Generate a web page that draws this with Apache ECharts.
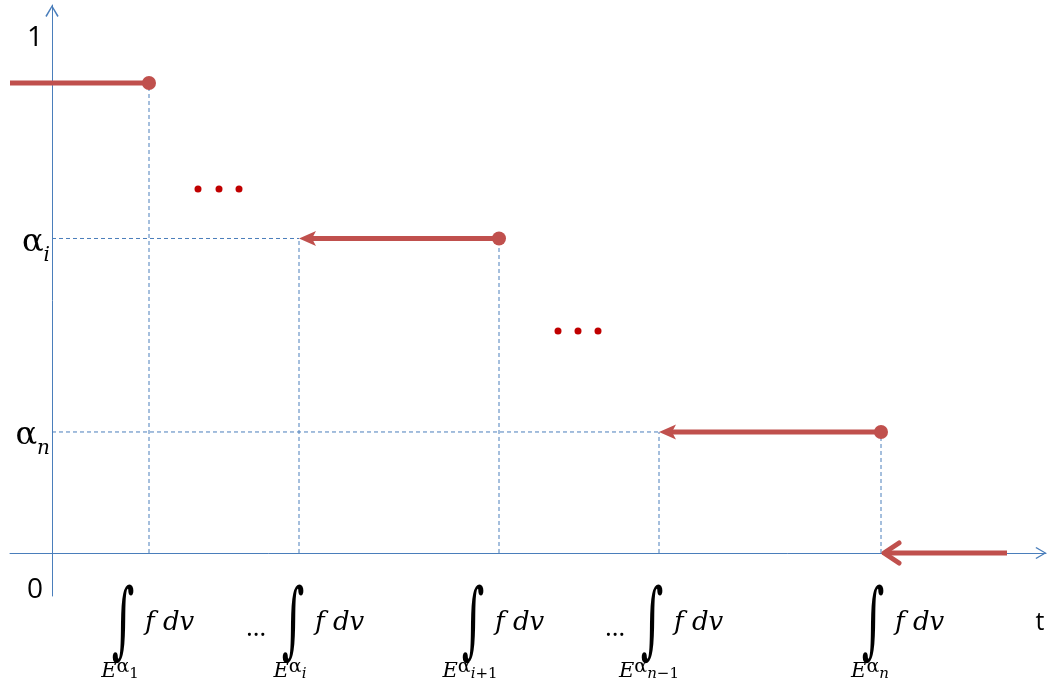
<!DOCTYPE html>
<html><head><meta charset="utf-8">
<script src="https://cdn.jsdelivr.net/npm/echarts@6/dist/echarts.min.js"></script>
<style>html,body{margin:0;padding:0;background:#fff}#c{width:1049px;height:686px}</style>
</head><body><div id="c"></div>
<script>
// ---- data (t on horizontal axis, level on vertical axis) ----
const tRange = [-42, 994];
const levelRange = [-0.0835, 1.0641];
const breaks = [97, 247, 447, 607, 829];             // integral values of f over E^{alpha_k}
const breakSubs = ['1', 'i', 'i+1', 'n−1', 'n'];     // subscripts under the integrals
const breakLevel = [0.9126, 0.6107, 0.6107, 0.2350, 0.2350];
const stepLevel = [0.9126, 0.6107, 0.2350, 0];
const stepFrom = [-42, 247, 607, 829];
const stepTo = [97, 447, 829, 955];
const stepLeftArrow = [false, true, true, true];
const stepRightDot = [true, true, true, false];
const stepGuide = [false, true, true, false];         // horizontal dashed guide to the axis
const yTickValues = [0, 0.2350, 0.6107, 1];
const yTickLabels = ['0', 'α_n', 'α_i', '1'];
const ellipsisT = [146, 167, 187, 506, 526, 546];
const ellipsisLevel = [0.7068, 0.7068, 0.7068, 0.4311, 0.4311, 0.4311];
const labelLeadDots = [false, true, false, true, false];
const axisName = 't';

// ---- styles ----
const AXIS = '#4a7ebb', RED = '#c0504d', DARKRED = '#c00000';
const intShift = [-26, -6, -26, -7, -8];
const openArrowStyle = [false, false, false, true];
const chevron = 'path://M0,10 L6,0 L12,10 L10.8,10.8 L6,2.2 L1.2,10.8 Z';

const series = [];
// dashed guides
breaks.forEach((b, i) => {
  series.push({type:'line', silent:true, symbol:'none', z:1, animation:false,
    lineStyle:{color:AXIS, width:1, type:[4,3]},
    data:[[b, 0], [b, breakLevel[i]]]});
});
stepLevel.forEach((lv, i) => {
  if (!stepGuide[i]) return;
  series.push({type:'line', silent:true, symbol:'none', z:1, animation:false,
    lineStyle:{color:AXIS, width:1, type:[4,3]},
    data:[[0, lv], [stepFrom[i], lv]]});
});
// red steps: segment, open end arrow on the left, closed dot on the right
series.push({type:'custom', silent:true, z:5, animation:false, clip:false,
  data: stepLevel.map((lv, i) => [stepFrom[i], stepTo[i], lv]),
  encode:{x:[0,1], y:2},
  renderItem(params, api) {
    const i = params.dataIndex;
    const a = api.coord([api.value(0), api.value(2)]);
    const b = api.coord([api.value(1), api.value(2)]);
    const ch = [];
    const open = openArrowStyle[i];
    const start = stepLeftArrow[i] ? a[0] + (open ? 3 : 13) : a[0];
    ch.push({type:'line', shape:{x1:start, y1:a[1], x2:b[0], y2:b[1]},
      style:{stroke:RED, lineWidth:5}});
    if (stepLeftArrow[i]) {
      if (open) {
        ch.push({type:'polyline', shape:{points:[[a[0] + 18, a[1] - 10], [a[0] + 3, a[1]], [a[0] + 18, a[1] + 10]]},
          style:{stroke:RED, lineWidth:5, fill:null, lineJoin:'round', lineCap:'round'}});
      } else {
        ch.push({type:'polygon', shape:{points:[[a[0], a[1]], [a[0] + 17, a[1] - 7.5], [a[0] + 13, a[1]], [a[0] + 17, a[1] + 7.5]]},
          style:{fill:RED}});
      }
    }
    if (stepRightDot[i]) {
      ch.push({type:'circle', shape:{cx:b[0], cy:b[1], r:7}, style:{fill:RED}});
    }
    return {type:'group', children:ch};
  }
});
// ellipsis dots
series.push({type:'scatter', silent:true, z:5, animation:false, symbolSize:7,
  itemStyle:{color:DARKRED, opacity:1},
  data: ellipsisT.map((t, i) => [t, ellipsisLevel[i]])});

function subRich(s) {
  return s.split('').map(ch => /[a-z]/.test(ch) ? '{si|' + ch + '}' : '{su|' + ch + '}').join('');
}
// integral labels under the t axis + axis name
series.push({type:'custom', silent:true, z:6, animation:false, clip:false,
  data: breaks.map(b => [b, 0]),
  encode:{x:0, y:1},
  renderItem(params, api) {
    const i = params.dataIndex;
    const p = api.coord([api.value(0), 0]);
    const ix = p[0] + intShift[i];
    const y0 = p[1];
    const children = [
      {type:'text', x:ix, y:y0 + 73, scaleX:0.75, scaleY:1.45,
        style:{text:'∫', font:'58px "DejaVu Serif"', fill:'#000', align:'center', verticalAlign:'middle'}},
      {type:'text', x:ix + 22, y:y0 + 70,
        style:{text:'f dv', font:'italic 26px "DejaVu Serif"', fill:'#000', align:'left', verticalAlign:'middle'}},
      {type:'text', x:ix - 3, y:y0 + 117,
        style:{text:'{e|E}{a|α}' + subRich(breakSubs[i]), align:'center', verticalAlign:'middle',
          rich:{
            e:{fontFamily:'DejaVu Serif', fontStyle:'italic', fontSize:21, fill:'#000', lineHeight:24, verticalAlign:'bottom'},
            a:{fontFamily:'DejaVu Serif', fontSize:19, fill:'#000', lineHeight:20, verticalAlign:'top', padding:[0,0,10,0]},
            si:{fontFamily:'DejaVu Serif', fontStyle:'italic', fontSize:15, fill:'#000', lineHeight:20, verticalAlign:'bottom'},
            su:{fontFamily:'DejaVu Serif', fontSize:15, fill:'#000', lineHeight:20, verticalAlign:'bottom'}
          }}}
    ];
    if (labelLeadDots[i]) {
      children.push({type:'text', x:ix - 37, y:y0 + 76,
        style:{text:'…', font:'26px "Open Sans"', fill:'#000', align:'center', verticalAlign:'middle'}});
    }
    if (i === breaks.length - 1) {
      const e = api.coord([tRange[1], 0]);
      children.push({type:'text', x:e[0] - 6, y:y0 + 70,
        style:{text:axisName, font:'25px "Open Sans"', fill:'#000', align:'center', verticalAlign:'middle'}});
    }
    return {type:'group', children};
  }
});

const chart = echarts.init(document.getElementById('c'), null, {renderer:'canvas'});
chart.setOption({
  backgroundColor:'#fff',
  animation:false,
  grid:{left:10, right:3, top:5, bottom:90, outerBoundsMode:'none'},
  xAxis:{type:'value', min:tRange[0], max:tRange[1],
    axisLine:{onZero:true, lineStyle:{color:AXIS, width:1}, symbol:['none', chevron], symbolSize:[13,11], symbolOffset:[0,-5]},
    axisTick:{show:false}, axisLabel:{show:false}, splitLine:{show:false}},
  yAxis:{type:'value', min:levelRange[0], max:levelRange[1],
    axisLine:{onZero:true, lineStyle:{color:AXIS, width:1}, symbol:['none', chevron], symbolSize:[15,12], symbolOffset:[0,-6]},
    axisTick:{show:false}, splitLine:{show:false},
    axisLabel:{show:true, margin:-40, customValues:yTickValues,
      formatter(v) {
        let k = 0, best = Infinity;
        yTickValues.forEach((tv, j) => { const d = Math.abs(tv - v); if (d < best) { best = d; k = j; } });
        const s = yTickLabels[k];
        if (s.indexOf('_') >= 0) { const parts = s.split('_'); return '{al|' + parts[0] + '}{sub|' + parts[1] + '}'; }
        return (v === 0 ? '{zero|' : '{num|') + s + '}';
      },
      rich:{
        num:{fontFamily:'Open Sans', fontSize:28, color:'#000', padding:[0,7,0,0]},
        zero:{fontFamily:'Open Sans', fontSize:28, color:'#000', padding:[74,7,0,0]},
        al:{fontFamily:'DejaVu Serif', fontSize:32, color:'#000', lineHeight:54, verticalAlign:'top', padding:[15,0,0,0]},
        sub:{fontFamily:'DejaVu Serif', fontStyle:'italic', fontSize:20, color:'#000', lineHeight:20, verticalAlign:'bottom'}
      }}},
  series
});
</script></body></html>
